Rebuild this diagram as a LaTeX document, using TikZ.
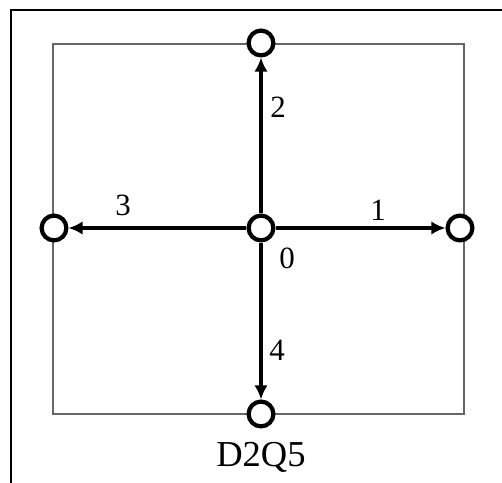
\documentclass[tikz,border=0pt]{standalone}
\usepackage{fontspec}
\setmainfont{Liberation Serif}
\usetikzlibrary{arrows.meta}

\begin{document}
\begin{tikzpicture}[
  site/.style={draw, circle, fill=white, line width=3pt, minimum size=0.62cm, inner sep=0pt},
  velo/.style={line width=2.6pt, -{Latex[length=10pt, width=9.5pt]}},
  every node/.style={font=\fontsize{22}{25}\selectfont}
]
  \useasboundingbox (-6.525,-6.375) rectangle (6.025,5.7);
  % frame round the figure
  \draw[line width=0.8pt] (-6.25,-7) |- (7,5.45);
  % lattice cell
  \draw[black!60, line width=1.4pt] (-5.2,-4.65) rectangle (5.075,4.6);

  \node[site] (c0) at (0, 0)        {};
  \node[site] (c1) at (4.975, 0)    {};
  \node[site] (c2) at (0, 4.625)    {};
  \node[site] (c3) at (-5.175, 0)   {};
  \node[site] (c4) at (0, -4.65)    {};

  \draw[velo] (c0) -- (c1);
  \draw[velo] (c0) -- (c2);
  \draw[velo] (c0) -- (c3);
  \draw[velo] (c0) -- (c4);

  \node (l0) at (0.65, -0.75)  {0};
  \node (l1) at (2.925, 0.45)  {1};
  \node (l2) at (0.425, 3.025) {2};
  \node (l3) at (-3.45, 0.575) {3};
  \node (l4) at (0.4, -3.05)   {4};
  \node[font=\fontsize{26}{29}\selectfont] (name) at (0, -5.725) {D2Q5};
\end{tikzpicture}
\end{document}
